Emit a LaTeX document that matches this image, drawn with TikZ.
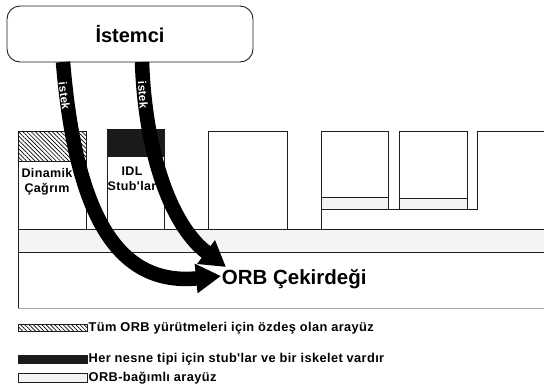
\documentclass[tikz,border=0pt]{standalone}
\usepackage{fontspec}
\setmainfont{Liberation Sans}
\newfontfamily\widefont{Liberation Sans}[LetterSpace=3]
\usetikzlibrary{arrows.meta,patterns.meta}
\definecolor{lightband}{RGB}{244,244,244}
\definecolor{edge}{RGB}{30,30,30}
\definecolor{stubfill}{RGB}{26,26,26}
\tikzset{
  box/.style={draw=edge, line width=0.9pt, fill=white},
  bandfill/.style={fill=lightband},
  edgeline/.style={draw=edge, line width=0.9pt},
  hatch/.style={pattern={Lines[angle=-45,distance=3pt,line width=0.7pt]}},
  client/.style={draw=edge, line width=0.9pt, rounded corners=13pt, fill=white,
    minimum width=246pt, minimum height=56pt, inner sep=0pt,
    font=\bfseries\fontsize{20}{24}\selectfont},
  lbl/.style={font=\widefont\bfseries\fontsize{12.5}{15.5}\selectfont, align=center, inner sep=0pt},
  legendtxt/.style={font=\widefont\bfseries\fontsize{12.8}{15}\selectfont, anchor=west, inner sep=0pt},
  biglbl/.style={font=\bfseries\fontsize{20.5}{24}\selectfont, anchor=west, inner sep=0pt},
  arrowline/.style={line width=14.5pt, draw=black, -{Triangle[width=28pt,length=25pt]}},
  arrowtxt/.style={font=\widefont\bfseries\fontsize{11.5}{13}\selectfont, text=white, inner sep=0pt},
}
\begin{document}
\begin{tikzpicture}[x=1pt,y=-1pt]
\useasboundingbox (0,0) rectangle (544,389);
% ORB core box
\draw[edgeline] (18,252.3) -- (18,308);
\draw[draw=gray!70, line width=0.9pt] (18,308) -- (544,308);
% band
\fill[bandfill] (18,229.3) rectangle (544,252.3);
\draw[edgeline] (544,229.3) -- (18,229.3) -- (18,252.3) -- (544,252.3);
% box 1 dynamic invocation
\draw[box] (18,131.7) rectangle (86,229.3);
\fill[hatch] (18,131.7) rectangle (86,161);
\draw[edgeline] (18,161) -- (86,161);
% box 2 IDL stubs
\draw[box] (107.7,129.3) rectangle (164,229.3);
\fill[stubfill] (107.7,129.3) rectangle (164,156.7);
% box 3
\draw[box] (208.7,131.7) rectangle (287.3,229.3);
% large region with skeleton boxes
\draw[edgeline] (321.3,131.7) -- (321.3,229.3);
\draw[edgeline] (321.3,209.3) -- (477.7,209.3);
\draw[box] (321.3,131.7) rectangle (388,209.3);
\filldraw[bandfill, edgeline] (321.3,197.7) rectangle (388,209.3);
\draw[box] (399.7,131.7) rectangle (467,209.3);
\filldraw[bandfill, edgeline] (399.7,198.7) rectangle (467,209.3);
\draw[edgeline] (477.7,209.3) -- (477.7,131.7) -- (544,131.7);
% texts in boxes
\node[lbl] (dyn) at (47,182) {Dinamik\\Çağrım};
\node[lbl] (idl) at (132,179) {IDL\\Stub'lar};
\node[biglbl] (orb) at (221.7,279) {ORB Çekirdeği};
% client
\node[client] (client) at (130,34) {İstemci};
\coordinate (s1) at (63,62);
\coordinate (s2) at (142,62);
\coordinate (t1) at (221,276);
\coordinate (t2) at (226,267);
% arrows
\draw[arrowline] (s1) .. controls (76,220) and (120,286) .. (t1);
\draw[arrowline] (s2) .. controls (145,150) and (170,225) .. (t2);
\node[arrowtxt, rotate=-83] (r1) at (64.5,96) {istek};
\node[arrowtxt, rotate=-86] (r2) at (143,95) {istek};
% legend
\filldraw[hatch, draw=edge, line width=0.9pt] (18,324.3) rectangle (87,331.7);
\node[legendtxt] (leg1) at (88.5,328) {Tüm ORB yürütmeleri için özdeş olan arayüz};
\filldraw[fill=stubfill, draw=edge, line width=0.9pt] (18,355) rectangle (87,363.3);
\node[legendtxt] (leg2) at (88.5,359) {Her nesne tipi için stub'lar ve bir iskelet vardır};
\filldraw[fill=lightband, draw=edge, line width=0.9pt] (18,373.3) rectangle (87,382.3);
\node[legendtxt] (leg3) at (88.5,378) {ORB-bağımlı arayüz};
\end{tikzpicture}
\end{document}
